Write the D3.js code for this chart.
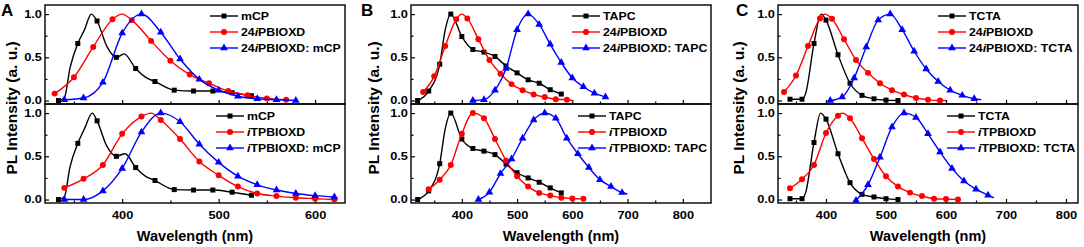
<!DOCTYPE html>
<html lang="en">
<head>
<meta charset="UTF-8">
<script src="https://d3js.org/d3.v7.min.js"></script>
<title>PL spectra</title>
<style>
  body { margin: 0; background: #fff; }
  svg text { font-family: "Liberation Sans", Arial, sans-serif; font-weight: bold; fill: #000; }
  .tick text { font-size: 10.5px; }
  .tick line { stroke: #000; stroke-width: 1.2; }
  .domain { display: none; }
</style>
</head>
<body>
<svg width="1084" height="247"></svg>
<script>
// [wavelength, intensity, marker?]  third value 0 = curve point only
// panel A
const aTopMCP = [[334,0],[340,0.03,0],[346,0.38,0],[354,0.66],[361,0.82,0],[368,1.0,0],[374,0.92],[384,0.63,0],[394,0.5],[402,0.54,0],[414,0.37],[424,0.27,0],[434,0.22],[454,0.12],[474,0.11],[494,0.11],[514,0.09],[534,0.055]];
const aTop24 = [[330,0.08],[350,0.27],[370,0.62],[390,0.94],[400,1.0,0],[410,0.93],[430,0.69],[450,0.46],[470,0.30],[490,0.20],[510,0.11],[530,0.06],[550,0.025],[570,0.01]];
const aTopMix = [[340,0.01],[360,0.03],[380,0.21],[400,0.78],[420,1.0],[440,0.79],[460,0.48],[480,0.245],[500,0.12],[520,0.05],[540,0.02],[560,0.01],[580,0.0]];
const aBotMCP = [[334,0],[340,0.03,0],[346,0.38,0],[354,0.65],[361,0.82,0],[369,1.0,0],[374,0.91],[384,0.62,0],[394,0.5],[403,0.53,0],[414,0.37],[424,0.27,0],[434,0.22],[454,0.115],[474,0.11],[494,0.11],[514,0.085],[534,0.05]];
const aBotITP = [[340,0.135],[360,0.24],[380,0.40],[400,0.76],[420,0.96],[430,1.0,0],[440,0.92],[460,0.70],[480,0.44],[500,0.28],[520,0.15],[540,0.07],[560,0.04],[580,0.02],[600,0.01],[620,0.0]];
const aBotMix = [[340,0],[360,0],[380,0.10],[400,0.36],[420,0.78],[440,1.0],[460,0.90],[480,0.64],[500,0.43],[520,0.27],[540,0.17],[560,0.11],[580,0.07],[600,0.045],[620,0.03]];
// panel B
const bTopTAPC = [[320,0],[340,0.11],[360,0.42],[370,0.82,0],[380,1.0],[400,0.74],[420,0.59],[440,0.56],[460,0.51],[480,0.40],[500,0.32],[520,0.24],[540,0.20],[560,0.125],[580,0.075]];
const bTop24 = [[330,0.10],[350,0.28],[370,0.63],[390,0.94],[400,1.0,0],[410,0.95],[430,0.71],[450,0.47],[470,0.31],[490,0.19],[510,0.12],[530,0.07],[550,0.04],[570,0.015],[590,0.01],[600,0.0,0]];
const bTopMix = [[420,0],[440,0.01],[460,0.12],[480,0.37],[500,0.82],[520,1.0],[540,0.88],[560,0.65],[580,0.44],[600,0.26],[620,0.16],[640,0.085],[660,0.04]];
const bBotTAPC = [[320,0],[340,0.10],[360,0.415],[370,0.82,0],[380,1.0],[400,0.70],[420,0.59],[440,0.56],[460,0.52],[480,0.41],[500,0.31],[520,0.25],[540,0.20],[560,0.135],[580,0.077]];
const bBotITP = [[340,0.12],[360,0.23],[380,0.40],[400,0.76],[420,1.0],[440,0.94],[460,0.70],[480,0.45],[500,0.27],[520,0.15],[540,0.077],[560,0.046],[580,0.02],[600,0.012],[620,0.008]];
const bBotMix = [[430,0],[450,0.085],[470,0.30],[490,0.47],[510,0.71],[530,0.92],[550,1.0],[570,0.94],[590,0.71],[610,0.53],[630,0.37],[650,0.23],[670,0.15],[690,0.08],[700,0.065,0]];
// panel C
const cTopTCTA = [[340,0.015],[360,0.015],[366,0.08,0],[380,0.66],[392,1.0,0],[400,0.93],[420,0.53],[440,0.20],[460,0.06],[480,0.02],[500,0.005],[520,0.0]];
const cTop24 = [[330,0.10],[350,0.29],[370,0.63],[390,0.95],[398,1.0,0],[410,0.945],[430,0.71],[450,0.47],[470,0.32],[490,0.20],[510,0.12],[530,0.07],[550,0.03],[570,0.01],[590,0.0],[600,0.0,0]];
const cTopMix = [[407,0],[427,0.04],[447,0.26],[467,0.62],[487,0.93],[507,1.0],[527,0.82],[547,0.57],[567,0.365],[587,0.22],[607,0.12],[627,0.06],[647,0.02],[659,0.01,0]];
const cBotTCTA = [[340,0.01],[360,0.01],[366,0.08,0],[380,0.66],[391,1.0,0],[400,0.93],[420,0.53],[440,0.195],[460,0.06],[480,0.03],[500,0.01],[520,0.0]];
const cBotITP = [[340,0.13],[360,0.235],[380,0.40],[400,0.77],[420,0.97],[427,1.0,0],[440,0.94],[460,0.71],[480,0.47],[500,0.27],[520,0.15],[540,0.08],[560,0.04],[580,0.01],[600,0.005],[620,0.0]];
const cBotMix = [[450,-0.01],[470,0.17],[490,0.49],[510,0.84],[530,1.0],[550,0.95],[570,0.76],[590,0.55],[610,0.36],[630,0.215],[650,0.12],[670,0.05],[680,0.02,0]];

// legend texts, *i* = italic part
const legA1 = ["mCP", "24*i*PBIOXD", "24*i*PBIOXD: mCP"];
const legA2 = ["mCP", "*i*TPBIOXD", "*i*TPBIOXD: mCP"];
const legB1 = ["TAPC", "24*i*PBIOXD", "24*i*PBIOXD: TAPC"];
const legB2 = ["TAPC", "*i*TPBIOXD", "*i*TPBIOXD: TAPC"];
const legC1 = ["TCTA", "24*i*PBIOXD", "24*i*PBIOXD: TCTA"];
const legC2 = ["TCTA", "*i*TPBIOXD", "*i*TPBIOXD: TCTA"];

const yTicks = [0, 0.5, 1.0], yMinor = [0.25, 0.75];

const colors = ["#000", "#f00", "#00f"];
const shapes = [d3.symbolSquare, d3.symbolCircle, d3.symbolTriangle];
const shapeSize = [25, 28, 26];
const stretch = 1.22; // the figure's small text is wider than tall

const svg = d3.select("svg");

const panels = [
  {letter: "A", lx: 1, x: [45, 345], dom: [320, 631], major: [400, 500, 600], minor: [350, 450, 550], ylabX: 17,
   top: [aTopMCP, aTop24, aTopMix], bot: [aBotMCP, aBotITP, aBotMix], legTop: legA1, legBot: legA2, legX: [210, 216]},
  {letter: "B", lx: 361, x: [411, 711], dom: [308, 851], major: [400, 500, 600, 700, 800], minor: [350, 450, 550, 650, 750], ylabX: 379,
   top: [bTopTAPC, bTop24, bTopMix], bot: [bBotTAPC, bBotITP, bBotMix], legTop: legB1, legBot: legB2, legX: [572, 578]},
  {letter: "C", lx: 736, x: [778, 1078], dom: [320, 820], major: [400, 500, 600, 700, 800], minor: [350, 450, 550, 650, 750], ylabX: 744,
   top: [cTopTCTA, cTop24, cTopMix], bot: [cBotTCTA, cBotITP, cBotMix], legTop: legC1, legBot: legC2, legX: [938, 947]}
];

const rows = [{y0: 5, y1: 104, key: "top", leg: "legTop", ly: 16}, {y0: 104, y1: 203, key: "bot", leg: "legBot", ly: 116}];

function richText(sel, str) {
  str.split("*").forEach((part, i) => {
    if (part) sel.append("tspan").style("font-style", i % 2 ? "italic" : "normal").text(part);
  });
}

panels.forEach(p => {
  const x = d3.scaleLinear().domain(p.dom).range(p.x);

  rows.forEach((r, ri) => {
    const y = d3.scaleLinear().domain([-0.04, 1.105]).range([r.y1, r.y0]);
    const g = svg.append("g");

    // x ticks (labels only on bottom plot)
    g.append("g").attr("transform", `translate(0,${r.y1})`)
      .call(d3.axisBottom(x).tickValues(p.major).tickSize(-4).tickPadding(9)
        .tickFormat(ri ? d3.format("d") : ""));
    g.append("g").attr("transform", `translate(0,${r.y1})`)
      .call(d3.axisBottom(x).tickValues(p.minor).tickSize(-2.5).tickFormat(""));
    g.append("g").attr("transform", `translate(${p.x[0]},0)`)
      .call(d3.axisLeft(y).tickValues(yTicks).tickSize(-4).tickPadding(2.5).tickFormat(d3.format(".1f")));
    g.append("g").attr("transform", `translate(${p.x[0]},0)`)
      .call(d3.axisLeft(y).tickValues(yMinor).tickSize(-2.5).tickFormat(""));

    g.append("rect").attr("x", p.x[0]).attr("y", r.y0)
      .attr("width", p.x[1] - p.x[0]).attr("height", r.y1 - r.y0)
      .attr("fill", "none").attr("stroke", "#000").attr("stroke-width", 1.4);

    const line = d3.line().x(d => x(d[0])).y(d => y(d[1])).curve(d3.curveMonotoneX);

    p[r.key].forEach((s, si) => {
      g.append("path").datum(s).attr("d", line)
        .attr("fill", "none").attr("stroke", colors[si]).attr("stroke-width", 1.4);
      g.selectAll(null).data(s.filter(d => d[2] !== 0)).join("path")
        .attr("transform", d => `translate(${x(d[0])},${y(d[1])})`)
        .attr("d", d3.symbol(shapes[si], shapeSize[si]))
        .attr("fill", colors[si]);
    });

    // legend
    const lx = p.legX[ri];
    p[r.leg].forEach((t, i) => {
      const yy = r.ly + i * 16;
      g.append("line").attr("x1", lx).attr("x2", lx + 28).attr("y1", yy).attr("y2", yy)
        .attr("stroke", colors[i]).attr("stroke-width", 1.4);
      g.append("path").attr("transform", `translate(${lx + 14},${yy})`)
        .attr("d", d3.symbol(shapes[i], shapeSize[i])).attr("fill", colors[i]);
      const tx = g.append("text").attr("transform", `translate(${lx + 31},${yy + 4}) scale(1.12,1)`)
        .style("font-size", "11px");
      richText(tx, t);
    });
  });

  svg.append("text").attr("x", (p.x[0] + p.x[1]) / 2).attr("y", 241)
    .attr("text-anchor", "middle").style("font-size", "14.5px").text("Wavelength (nm)");
  svg.append("text").attr("transform", `translate(${p.ylabX},108) rotate(-90)`)
    .attr("text-anchor", "middle").style("font-size", "15.5px").text("PL Intensity (a. u.)");
  svg.append("text").attr("x", p.lx).attr("y", 16).style("font-size", "17px").text(p.letter);
});

// widen tick labels like the figure
svg.selectAll(".tick text").attr("transform", `scale(${stretch},1)`);
</script>
</body>
</html>
